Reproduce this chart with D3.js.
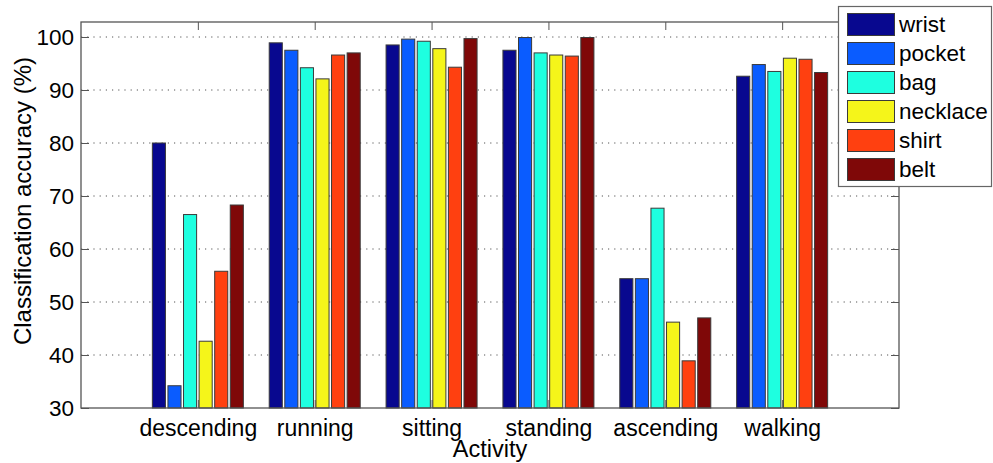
<!DOCTYPE html>
<html>
<head>
<meta charset="utf-8">
<script src="https://cdn.jsdelivr.net/npm/d3@7"></script>
<style>
  html, body { margin: 0; padding: 0; background: #fff; }
  svg { display: block; font-family: "Liberation Sans", Arial, Helvetica, sans-serif; }
</style>
</head>
<body>
<svg id="chart" width="993" height="463"></svg>
<script>
const categories = ["descending", "running", "sitting", "standing", "ascending", "walking"];
const seriesNames = ["wrist", "pocket", "bag", "necklace", "shirt", "belt"];
const wrist    = [80.0, 98.9, 98.5, 97.5, 54.4, 92.6];
const pocket   = [34.2, 97.5, 99.6, 99.9, 54.4, 94.8];
const bag      = [66.5, 94.2, 99.2, 97.0, 67.7, 93.5];
const necklace = [42.6, 92.1, 97.8, 96.6, 46.2, 96.0];
const shirt    = [55.8, 96.6, 94.3, 96.4, 38.9, 95.8];
const belt     = [68.3, 97.0, 99.7, 99.9, 47.0, 93.3];
const yTicks = [30, 40, 50, 60, 70, 80, 90, 100];
const colors = ["#08088f", "#0a5cff", "#1effe0", "#f5f51a", "#ff4010", "#7f0808"];

const seriesValues = [wrist, pocket, bag, necklace, shirt, belt];

(function () {
const svg = d3.select("#chart");
const pl = 81, pr = 899, pt = 22, pb = 408;
const FONT = "Liberation Sans, Arial, sans-serif";

// MATLAB-like numeric x axis: categories at 1..6, xlim [0, 7]
const x = d3.scaleLinear().domain([0, 7]).range([pl, pr]);
const y = d3.scaleLinear().domain([30, 30 + (pb - pt) / ((pb - 37) / 70)]).range([pb, pt]);

const axisColor = "#555";
const groupWidth = 0.8;
const slot = groupWidth / seriesNames.length;
const barW = slot * 0.84;

// grid lines
const g = svg.append("g");
g.selectAll("line.grid").data(yTicks.filter(t => t > 30)).enter().append("line")
  .attr("x1", pl).attr("x2", pr)
  .attr("y1", d => y(d)).attr("y2", d => y(d))
  .attr("stroke", "#555").attr("stroke-width", 1)
  .attr("stroke-dasharray", "1.2,5");

// bars
seriesValues.forEach((vals, si) => {
  g.append("g").selectAll("rect").data(vals).enter().append("rect")
    .attr("x", (d, ci) => x(ci + 1 - groupWidth / 2 + si * slot + (slot - barW) / 2))
    .attr("width", x(barW) - x(0))
    .attr("y", d => y(d))
    .attr("height", d => y(30) - y(d))
    .attr("fill", colors[si])
    .attr("stroke", "#3a3a3a")
    .attr("stroke-width", 1);
});

// frame
svg.append("rect").attr("x", pl).attr("y", pt)
  .attr("width", pr - pl).attr("height", pb - pt)
  .attr("fill", "none").attr("stroke", axisColor).attr("stroke-width", 1.3);

// y axis (left) with ticks inward
const yAxisL = d3.axisLeft(y).tickValues(yTicks).tickSize(-8).tickPadding(14).tickFormat(d3.format("d"));
const gl = svg.append("g").attr("transform", `translate(${pl},0)`).call(yAxisL);
gl.select(".domain").remove();
gl.selectAll(".tick line").attr("stroke", axisColor);
gl.selectAll(".tick text").attr("x", -7).attr("font-size", 22.5).attr("fill", "#000")
  .attr("font-family", FONT);

// y ticks (right) inward
const yAxisR = d3.axisRight(y).tickValues(yTicks).tickSize(-8).tickFormat("");
const gr = svg.append("g").attr("transform", `translate(${pr},0)`).call(yAxisR);
gr.select(".domain").remove();
gr.selectAll(".tick line").attr("stroke", axisColor);

// x axis bottom
const xAxisB = d3.axisBottom(x).tickValues(d3.range(1, categories.length + 1))
  .tickSize(-8).tickFormat(d => categories[d - 1]);
const gb = svg.append("g").attr("transform", `translate(0,${pb})`).call(xAxisB);
gb.select(".domain").remove();
gb.selectAll(".tick line").attr("stroke", axisColor);
gb.selectAll(".tick text").attr("y", 28).attr("dy", 0).attr("font-size", 23).attr("fill", "#000")
  .attr("font-family", FONT);

// x ticks top
const xAxisT = d3.axisTop(x).tickValues(d3.range(1, categories.length + 1)).tickSize(-8).tickFormat("");
const gt = svg.append("g").attr("transform", `translate(0,${pt})`).call(xAxisT);
gt.select(".domain").remove();
gt.selectAll(".tick line").attr("stroke", axisColor);

// axis labels
svg.append("text").attr("x", (pl + pr) / 2).attr("y", 457)
  .attr("text-anchor", "middle").attr("font-size", 23.5).text("Activity");
svg.append("text").attr("transform", `translate(31,201) rotate(-90)`)
  .attr("text-anchor", "middle").attr("font-size", 24).text("Classification accuracy (%)");

// legend
const lg = svg.append("g");
lg.append("rect").attr("x", 838.5).attr("y", 6.5).attr("width", 153).attr("height", 180)
  .attr("fill", "#fff").attr("stroke", "#666").attr("stroke-width", 1.2);
seriesNames.forEach((name, i) => {
  const yy = 13 + i * 29;
  lg.append("rect").attr("x", 847.5).attr("y", yy + 0.5).attr("width", 47).attr("height", 22)
    .attr("fill", colors[i]).attr("stroke", "#3a3a3a").attr("stroke-width", 1);
  lg.append("text").attr("x", 899).attr("y", yy + 11).attr("dy", "0.35em")
    .attr("font-size", 22.5).text(name);
});
})();
</script>
</body>
</html>
